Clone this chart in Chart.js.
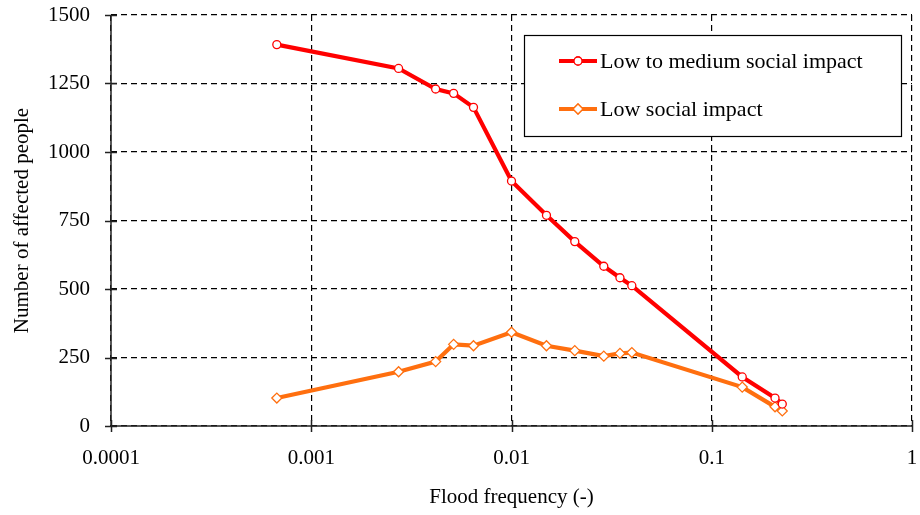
<!DOCTYPE html>
<html>
<head>
<meta charset="utf-8">
<script src="https://cdn.jsdelivr.net/npm/chart.js@4/dist/chart.umd.min.js"></script>
<style>
  html, body { margin: 0; padding: 0; background: #fff; }
  #wrap { width: 920px; height: 515px; position: relative; }
</style>
</head>
<body>
<div id="wrap"><canvas id="grafico"></canvas></div>
<script>
// flood frequency (-), shared by both series
const frequencias = [0.000673, 0.00273, 0.00418, 0.00514, 0.00646, 0.01, 0.01495, 0.0207, 0.0289, 0.0348, 0.0399, 0.142, 0.207, 0.225];
const impactoBaixoMedio = [1392, 1305, 1230, 1214, 1163, 894, 769, 673, 583, 541, 512, 179, 102, 80];
const impactoBaixo = [102, 198, 235, 298, 293, 342, 293, 275, 255, 265, 268, 142, 70, 55];
const ticksX = [0.0001, 0.001, 0.01, 0.1, 1];
const ticksY = [0, 250, 500, 750, 1000, 1250, 1500];
const nomesSeries = ['Low to medium social impact', 'Low social impact'];

const fonte = 'Liberation Serif';
const corVermelho = '#ff0000';
const corLaranja = '#ff6f0f';

function pontos(valores) {
  return frequencias.map((f, i) => ({ x: f, y: valores[i] }));
}

// eixos sólidos, marcas cruzando o eixo e legenda com moldura
const extras = {
  id: 'extras',
  afterDatasetsDraw(chart) {
    const ctx = chart.ctx;
    const area = chart.chartArea;
    const sx = chart.scales.x, sy = chart.scales.y;
    ctx.save();
    ctx.strokeStyle = '#222';
    ctx.lineWidth = 1.5;
    ctx.setLineDash([]);
    ctx.beginPath();
    ctx.moveTo(area.left, area.top); ctx.lineTo(area.left, area.bottom);
    ctx.lineTo(area.right, area.bottom);
    ticksY.forEach(v => {
      const y = Math.round(sy.getPixelForValue(v)) + 0.5;
      ctx.moveTo(area.left - 6, y); ctx.lineTo(area.left + 6, y);
    });
    ticksX.forEach(v => {
      const x = Math.round(sx.getPixelForValue(v)) + 0.5;
      ctx.moveTo(x, area.bottom + 6); ctx.lineTo(x, area.bottom - 6);
    });
    ctx.stroke();

    // caixa da legenda
    ctx.fillStyle = '#fff';
    ctx.fillRect(524, 35, 377, 101);
    ctx.strokeStyle = '#000';
    ctx.lineWidth = 1.2;
    ctx.strokeRect(524.5, 35.5, 377, 101);

    const itens = [
      { y: 61, cor: corVermelho, estilo: 'circle', raio: 4 },
      { y: 109, cor: corLaranja, estilo: 'rectRot', raio: 5 }
    ];
    itens.forEach((it, i) => {
      ctx.strokeStyle = it.cor;
      ctx.lineWidth = 4;
      ctx.beginPath();
      ctx.moveTo(559, it.y); ctx.lineTo(597, it.y);
      ctx.stroke();
      ctx.fillStyle = '#fff';
      ctx.lineWidth = 1.3;
      Chart.helpers.drawPoint(ctx, { pointStyle: it.estilo, radius: it.raio, borderWidth: 1.3 }, 578, it.y);
      ctx.fill();
      ctx.stroke();
      ctx.fillStyle = '#000';
      ctx.font = `22px "${fonte}"`;
      ctx.textBaseline = 'middle';
      ctx.fillText(nomesSeries[i], 600, it.y + 1);
    });
    ctx.restore();
  }
};

const gradeTracejada = {
  color: '#000',
  lineWidth: 1.2,
  drawTicks: false
};

new Chart(document.getElementById('grafico').getContext('2d'), {
  type: 'scatter',
  data: {
    datasets: [{
      label: nomesSeries[0],
      data: pontos(impactoBaixoMedio),
      showLine: true,
      borderColor: corVermelho,
      borderWidth: 4.2,
      pointStyle: 'circle',
      pointRadius: 4,
      pointBorderWidth: 1.3,
      pointBackgroundColor: '#fff',
      pointBorderColor: corVermelho
    }, {
      label: nomesSeries[1],
      data: pontos(impactoBaixo),
      showLine: true,
      borderColor: corLaranja,
      borderWidth: 4.2,
      pointStyle: 'rectRot',
      pointRadius: 5,
      pointBorderWidth: 1.3,
      pointBackgroundColor: '#fff',
      pointBorderColor: corLaranja
    }]
  },
  options: {
    responsive: true,
    maintainAspectRatio: false,
    animation: false,
    layout: { padding: { top: 15, right: 8, left: 0, bottom: 0 } },
    plugins: {
      legend: { display: false },
      tooltip: { enabled: false }
    },
    scales: {
      x: {
        type: 'logarithmic',
        min: 0.0001,
        max: 1,
        afterBuildTicks: s => { s.ticks = ticksX.map(v => ({ value: v })); },
        afterFit: s => { s.height = 89; s.paddingLeft = 0; s.paddingRight = 0; },
        ticks: {
          color: '#000',
          font: { family: fonte, size: 21 },
          padding: 20,
          maxRotation: 0,
          callback: v => String(v)
        },
        grid: gradeTracejada,
        border: { display: false, dash: [6, 4] },
        title: {
          display: true,
          text: 'Flood frequency (-)',
          color: '#000',
          font: { family: fonte, size: 21 },
          padding: { top: 0, bottom: 5 }
        }
      },
      y: {
        min: 0,
        max: 1500,
        afterBuildTicks: s => { s.ticks = ticksY.map(v => ({ value: v })); },
        afterFit: s => { s.width = 111; s.paddingTop = 0; s.paddingBottom = 0; },
        ticks: {
          color: '#000',
          font: { family: fonte, size: 21 },
          padding: 21,
          callback: v => String(v)
        },
        grid: gradeTracejada,
        border: { display: false, dash: [6, 4] },
        title: {
          display: true,
          text: 'Number of affected people',
          color: '#000',
          font: { family: fonte, size: 21 },
          padding: { top: 10, bottom: 0 }
        }
      }
    }
  },
  plugins: [extras]
});
</script>
</body>
</html>
